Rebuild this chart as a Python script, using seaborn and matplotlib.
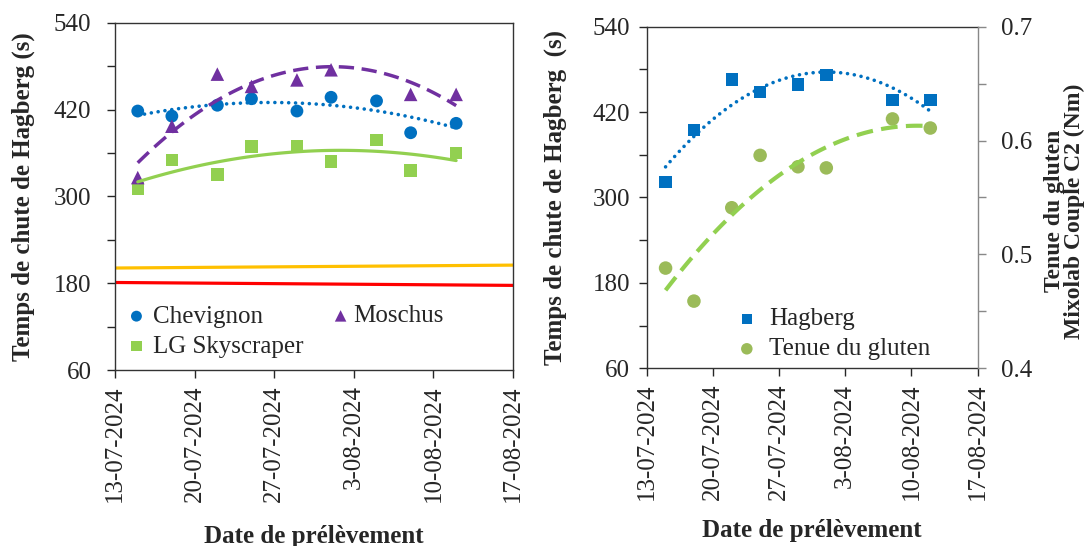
import numpy as np
import pandas as pd
import matplotlib
matplotlib.use("Agg")
import matplotlib.pyplot as plt
import matplotlib.dates as mdates
from matplotlib.ticker import MultipleLocator, FixedLocator, FuncFormatter
import seaborn as sns

# ---- data -----------------------------------------------------------------
dates_all = ["2024-07-15", "2024-07-18", "2024-07-22", "2024-07-25", "2024-07-29",
             "2024-08-01", "2024-08-05", "2024-08-08", "2024-08-12"]
chevignon = [418, 411, 426, 435, 418, 437, 432, 388, 401]
lg_skyscraper = [311, 350, 330, 369, 370, 348, 378, 336, 360]

dates_moschus = ["2024-07-15", "2024-07-18", "2024-07-22", "2024-07-25", "2024-07-29",
                 "2024-08-01", "2024-08-08", "2024-08-12"]
moschus = [326, 397, 469, 452, 461, 475, 441, 441]

dates_moschus_gluten = dates_moschus
hagberg = [322, 395, 466, 448, 459, 472, 437, 437]
tenue_gluten = [0.488, 0.459, 0.541, 0.587, 0.577, 0.576, 0.619, 0.611]

seuil_dates = ["2024-07-13", "2024-08-17"]
seuil_orange = [201, 205]
seuil_rouge = [181, 177]

tick_dates = ["2024-07-13", "2024-07-20", "2024-07-27", "2024-08-03", "2024-08-10", "2024-08-17"]
hagberg_ticks = [60, 180, 300, 420, 540]
hagberg_minor = [120, 240, 360, 480]

BLUE = "#0070C0"
PURPLE = "#7030A0"
GREEN = "#92D050"
OLIVE = "#9BBB59"
ORANGE = "#FFC000"
RED = "#FF0000"

sns.set_style("ticks")
plt.rcParams["font.family"] = ["Liberation Serif", "DejaVu Serif"]
plt.rcParams["axes.linewidth"] = 1.0

FS = 18


def to_dt(lst):
    return pd.to_datetime(pd.Series(lst))


def trend(dates, values, deg=2, n=120):
    """Second-order polynomial trend line over the span of the samples."""
    x = mdates.date2num(to_dt(dates))
    coef = np.polyfit(x - x[0], np.asarray(values, float), deg)
    xs = np.linspace(x[0], x[-1], n)
    return pd.Series(mdates.num2date(xs)).dt.tz_localize(None), np.polyval(coef, xs - x[0])


def date_fmt(v, pos):
    d = mdates.num2date(v)
    return f"{d.day}-{d.month:02d}-{d.year}"


def style_xaxis(ax):
    ax.set_xlim(pd.Timestamp(tick_dates[0]), pd.Timestamp(tick_dates[-1]))
    ax.xaxis.set_major_locator(FixedLocator(mdates.date2num(to_dt(tick_dates))))
    ax.xaxis.set_major_formatter(FuncFormatter(date_fmt))
    ax.tick_params(axis="x", which="major", direction="out", length=6, width=1,
                   labelsize=FS, rotation=90, pad=5)


def style_hagberg_yaxis(ax, pad):
    ax.set_ylim(60, 540)
    ax.yaxis.set_major_locator(FixedLocator(hagberg_ticks))
    ax.yaxis.set_minor_locator(FixedLocator(hagberg_minor))
    ax.tick_params(axis="y", which="major", direction="out", length=6, width=1,
                   labelsize=FS, pad=pad)
    ax.tick_params(axis="y", which="minor", direction="out", length=6, width=1)


LEG_KW = dict(frameon=False, fontsize=FS, loc="center left", borderaxespad=0,
              borderpad=0, handlelength=0.6, labelspacing=0.3, markerscale=0.85)

fig = plt.figure(figsize=(10.85, 5.46), dpi=100)
axL = fig.add_axes([0.106, 0.3223, 0.3668, 0.636])
axR = fig.add_axes([0.596, 0.3255, 0.305, 0.6256])

# ---- left panel: three varieties ------------------------------------------
sns.scatterplot(x=to_dt(dates_all), y=chevignon, ax=axL, marker="o", s=85,
                color=BLUE, edgecolor="none", label="Chevignon", zorder=3)
sns.scatterplot(x=to_dt(dates_all), y=lg_skyscraper, ax=axL, marker="s", s=80,
                color=GREEN, edgecolor="none", label="LG Skyscraper", zorder=3)
sns.scatterplot(x=to_dt(dates_moschus), y=moschus, ax=axL, marker="^", s=95,
                color=PURPLE, edgecolor="none", label="Moschus", zorder=3)

tx, ty = trend(dates_all, chevignon)
sns.lineplot(x=tx, y=ty, ax=axL, color=BLUE, linewidth=2.6, linestyle=(0, (0.01, 1.9)),
             dash_capstyle="round", legend=False, zorder=4)
tx, ty = trend(dates_moschus, moschus)
sns.lineplot(x=tx, y=ty, ax=axL, color=PURPLE, linewidth=2.5, linestyle=(0, (4.4, 2.2)),
             legend=False, zorder=4)
tx, ty = trend(dates_all, lg_skyscraper)
sns.lineplot(x=tx, y=ty, ax=axL, color=GREEN, linewidth=2.3, legend=False, zorder=4)

sns.lineplot(x=to_dt(seuil_dates), y=seuil_orange, ax=axL, color=ORANGE,
             linewidth=2.3, legend=False, zorder=2)
sns.lineplot(x=to_dt(seuil_dates), y=seuil_rouge, ax=axL, color=RED,
             linewidth=2.3, legend=False, zorder=2)

style_hagberg_yaxis(axL, pad=11)
style_xaxis(axL)
for s in axL.spines.values():
    s.set_color("#333333")

axL.set_ylabel("Temps de chute de Hagberg (s)", fontsize=18, fontweight="bold")
axL.yaxis.set_label_coords(-0.202, 0.5)
axL.set_xlabel("Date de prélèvement", fontsize=18, fontweight="bold")
axL.xaxis.set_label_coords(0.5, -0.445)

# legend laid out in two columns: Chevignon / LG Skyscraper, then Moschus
h, l = axL.get_legend_handles_labels()
leg_a = axL.legend(h[:2], l[:2], bbox_to_anchor=(0.035, 0.111),
                   handletextpad=0.35, **LEG_KW)
axL.add_artist(leg_a)
axL.legend(h[2:], l[2:], bbox_to_anchor=(0.548, 0.155),
           handletextpad=0.22, **LEG_KW)

# ---- right panel: Hagberg vs gluten strength ------------------------------
ax2 = axR.twinx()

sns.scatterplot(x=to_dt(dates_moschus_gluten), y=hagberg, ax=axR, marker="s", s=80,
                color=BLUE, edgecolor="none", label="Hagberg", zorder=3)
tx, ty = trend(dates_moschus_gluten, hagberg)
sns.lineplot(x=tx, y=ty, ax=axR, color=BLUE, linewidth=2.6, linestyle=(0, (0.01, 1.9)),
             dash_capstyle="round", legend=False, zorder=4)

sns.scatterplot(x=to_dt(dates_moschus_gluten), y=tenue_gluten, ax=ax2, marker="o", s=95,
                color=OLIVE, edgecolor="none", label="Tenue du gluten", zorder=3)
tx, ty = trend(dates_moschus_gluten, tenue_gluten)
sns.lineplot(x=tx, y=ty, ax=ax2, color=GREEN, linewidth=3.0, linestyle=(0, (4.0, 2.0)),
             legend=False, zorder=4)

style_hagberg_yaxis(axR, pad=6)
style_xaxis(axR)
axR.spines["right"].set_visible(False)
for k in ("left", "top", "bottom"):
    axR.spines[k].set_color("#333333")

ax2.set_ylim(0.4, 0.7)
ax2.yaxis.set_major_locator(MultipleLocator(0.1))
ax2.yaxis.set_minor_locator(MultipleLocator(0.05))
ax2.yaxis.set_major_formatter(FuncFormatter(lambda v, p: f"{v:.1f}"))
ax2.tick_params(axis="y", which="major", direction="out", length=6, width=1,
                labelsize=FS, pad=11, color="#888888")
ax2.tick_params(axis="y", which="minor", direction="out", length=6, width=1,
                color="#888888")
for k in ("left", "top", "bottom"):
    ax2.spines[k].set_visible(False)
ax2.spines["right"].set_color("#888888")

axR.set_ylabel("Temps de chute de Hagberg  (s)", fontsize=18, fontweight="bold")
axR.yaxis.set_label_coords(-0.241, 0.5)
axR.set_xlabel("Date de prélèvement", fontsize=18, fontweight="bold")
axR.xaxis.set_label_coords(0.5, -0.44)
ax2.set_ylabel("Tenue du gluten\nMixolab Couple C2 (Nm)", fontsize=17,
               fontweight="bold", linespacing=0.95)
ax2.yaxis.set_label_coords(1.2, 0.46)

if axR.get_legend() is not None:
    axR.get_legend().remove()
h1, l1 = axR.get_legend_handles_labels()
h2, l2 = ax2.get_legend_handles_labels()
ax2.legend(h1 + h2, l1 + l2, bbox_to_anchor=(0.28, 0.10), handletextpad=0.6, **LEG_KW)

fig.savefig("out.png", dpi=100)
